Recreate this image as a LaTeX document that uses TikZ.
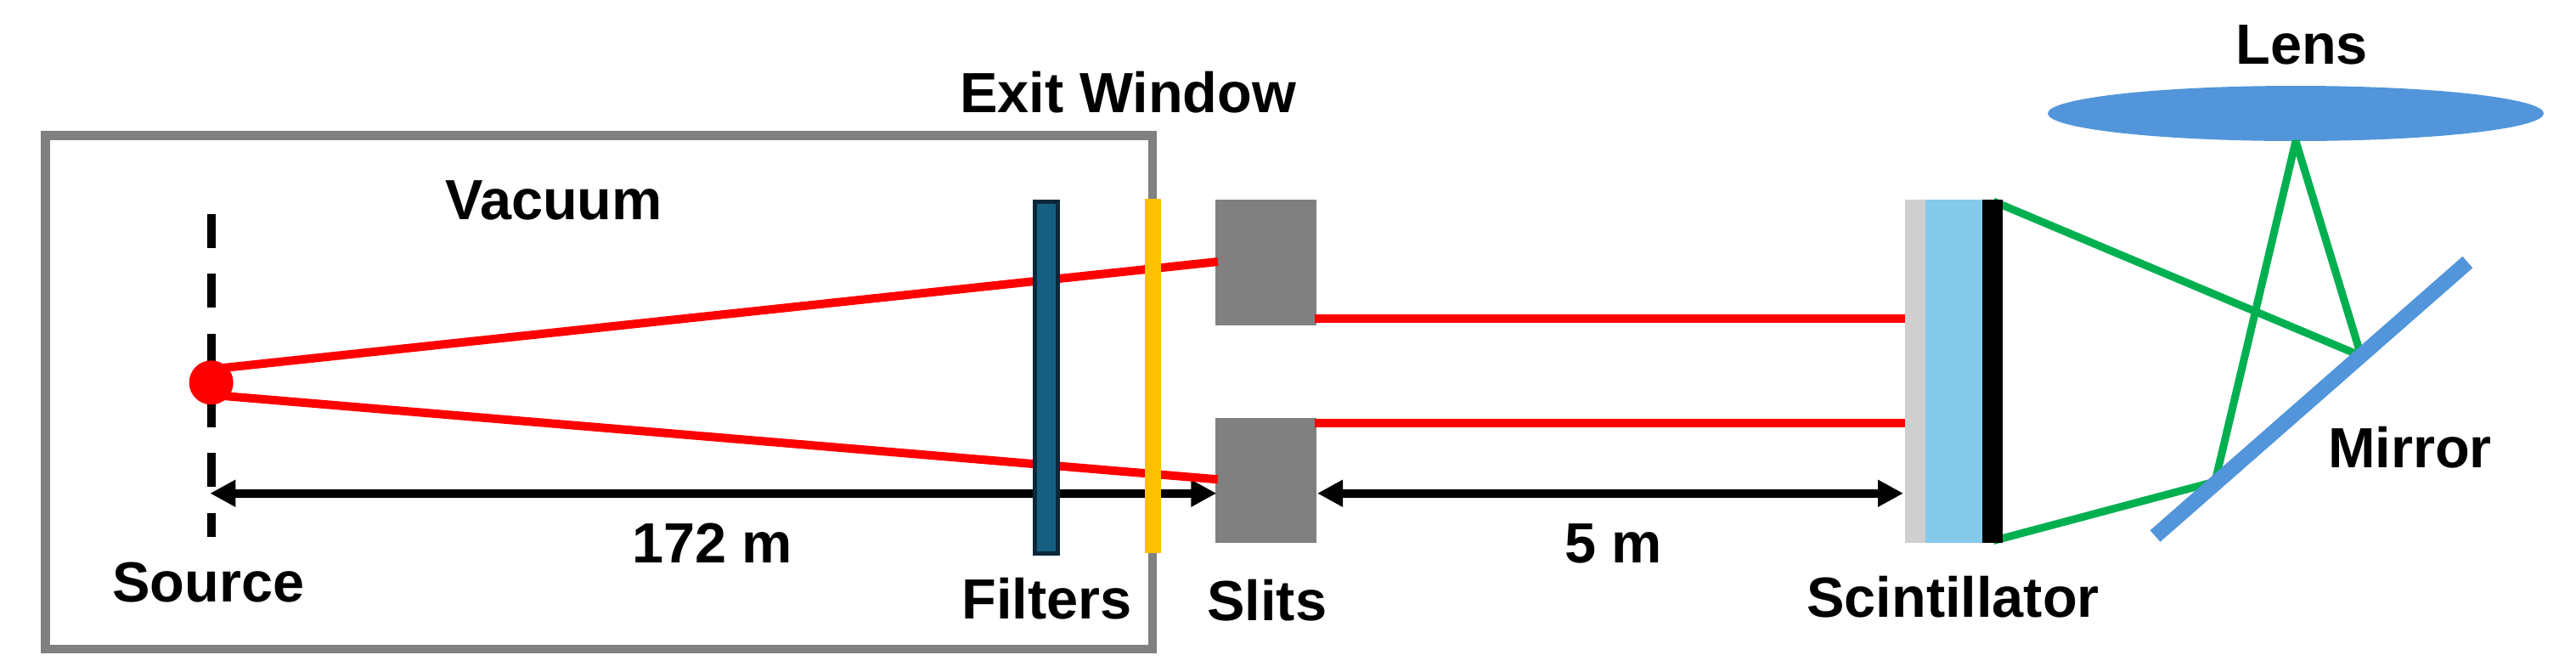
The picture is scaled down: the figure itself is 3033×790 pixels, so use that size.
\documentclass[tikz,border=0pt]{standalone}
\usepackage{fontspec}
\setmainfont{Liberation Sans}
\usepackage{xcolor}
\usetikzlibrary{arrows.meta}

\tikzset{
  lbl/.style={anchor=base west,inner sep=0pt,font=\fontsize{50}{55}\selectfont\bfseries},
  beam/.style={color={rgb, 255:red, 255; green, 0; blue, 0 },line width=7.5pt},
  ray/.style={color={rgb, 255:red, 0; green, 176; blue, 80 },line width=6.8pt,line join=bevel},
  span/.style={line width=7.7pt,{Triangle[length=22.5pt,width=22.5pt]}-{Triangle[length=22.5pt,width=22.5pt]}},
}

\begin{document}
\begin{tikzpicture}[x=0.75pt,y=0.75pt,yscale=-1,xscale=1]
\useasboundingbox (0,0) rectangle (3033,790);

\coordinate (srcpt) at (248.7,450.3);
\coordinate (beamtop) at (263,433);
\coordinate (beamlow) at (263,466);
\coordinate (slittop) at (1434,308);
\coordinate (slitlow) at (1434,564.3);
\coordinate (scinttop) at (2243,375);
\coordinate (scintlow) at (2243,497.7);
\coordinate (raytop) at (2347,237);
\coordinate (raybot) at (2347,636.5);
\coordinate (mirrortop) at (2780,419);
\coordinate (mirrorbot) at (2608,567);
\coordinate (lensfocus) at (2703,166);

%Shape: Vacuum box
\draw [color={rgb, 255:red, 128; green, 128; blue, 128 },line width=7.7pt] (53.5,159.5) -- (1357,159.5) -- (1357,764) -- (53.5,764) -- cycle ;
%Straight Lines: source plane
\draw [line width=7.5pt,dash pattern=on 30pt off 22.75pt] (249,252) -- (249,631.7) ;

%Shape: Rectangle slits
\fill [color={rgb, 255:red, 128; green, 128; blue, 128 }] (1431.3,235) -- (1550,235) -- (1550,383) -- (1431.3,383) -- cycle ;
\fill [color={rgb, 255:red, 128; green, 128; blue, 128 }] (1431.3,491.7) -- (1550,491.7) -- (1550,638.7) -- (1431.3,638.7) -- cycle ;

%Straight Lines: distances
\draw [span] (247.3,580.7) -- (1432.3,580.7) ;
\draw [span] (1551,580.7) -- (2241,580.7) ;

%Straight Lines: beams
\draw [beam] (beamtop) -- (slittop) ;
\draw [beam] (beamlow) -- (slitlow) ;
\draw [beam] (1547.7,375) -- (scinttop) ;
\draw [beam] (1547.7,497.7) -- (scintlow) ;
%Shape: Circle
\fill [color={rgb, 255:red, 255; green, 0; blue, 0 }] (srcpt) circle (26) ;

%Shape: Rectangle filters
\draw [color={rgb, 255:red, 10; green, 40; blue, 58 },fill={rgb, 255:red, 21; green, 96; blue, 130 },line width=3.75pt] (1218.8,237.5) -- (1245.8,237.5) -- (1245.8,651.2) -- (1218.8,651.2) -- cycle ;
%Shape: Rectangle window
\fill [color={rgb, 255:red, 255; green, 192; blue, 0 }] (1347.7,234) -- (1367,234) -- (1367,651.3) -- (1347.7,651.3) -- cycle ;

%Shape: Ellipse lens
\fill [color={rgb, 255:red, 82; green, 149; blue, 218 }] (2703,133.5) ellipse (292 and 32.5) ;
%Straight Lines: light
\draw [ray] (raytop) -- (mirrortop) -- (lensfocus) -- (mirrorbot) -- (raybot) ;

%Shape: Rectangle scintillator
\fill [color={rgb, 255:red, 207; green, 207; blue, 207 }] (2243,235) -- (2267,235) -- (2267,638.7) -- (2243,638.7) -- cycle ;
\fill [color={rgb, 255:red, 131; green, 202; blue, 235 }] (2267,235) -- (2334,235) -- (2334,638.7) -- (2267,638.7) -- cycle ;
\fill [color=black] (2334,235) -- (2358,235) -- (2358,638.7) -- (2334,638.7) -- cycle ;
%Straight Lines: mirror
\draw [color={rgb, 255:red, 82; green, 149; blue, 218 },line width=13.5pt] (2537.5,631) -- (2905.4,308.6) ;

% Text Node
\node [lbl] (lblexit) at (1130,132) {Exit Window};
% Text Node
\node [lbl] (lblvacuum) at (524,258) {Vacuum};
% Text Node
\node [lbl] (lblsource) at (132,708) {Source};
% Text Node
\node [lbl] (lbllong) at (744,662) {172 m};
% Text Node
\node [lbl] (lblfilters) at (1132,728) {Filters};
% Text Node
\node [lbl] (lblslits) at (1421,730.5) {Slits};
% Text Node
\node [lbl] (lblshort) at (1842,662) {5 m};
% Text Node
\node [lbl] (lblscint) at (2127,726) {Scintillator};
% Text Node
\node [lbl] (lbllens) at (2632,75.5) {Lens};
% Text Node
\node [lbl] (lblmirror) at (2741,550) {Mirror};
\end{tikzpicture}
\end{document}
